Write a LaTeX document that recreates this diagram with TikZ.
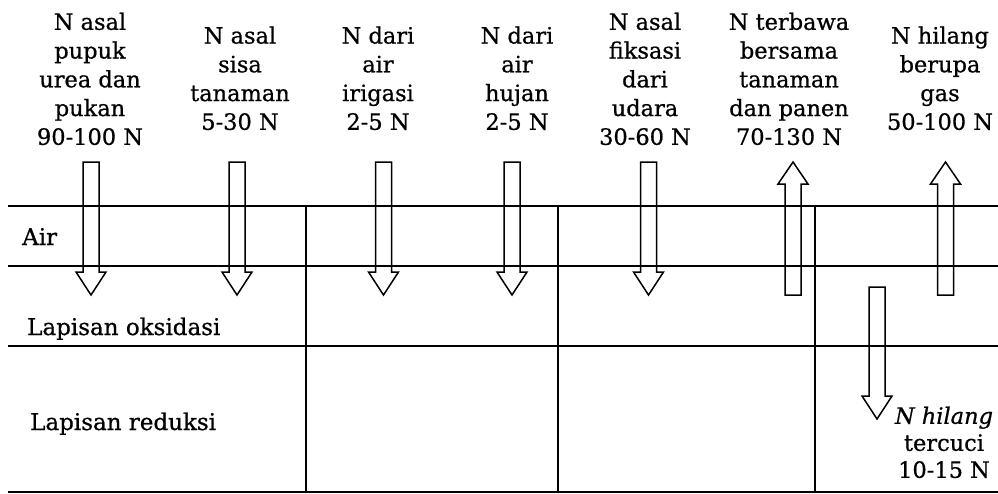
\documentclass[tikz,border=0pt]{standalone}
\usepackage{fontspec}
\setmainfont{DejaVu Serif}[FakeBold=0.7,ItalicFeatures={FakeBold=0.7}]
\begin{document}
\begin{tikzpicture}[x=1pt,y=-1pt,
  rule/.style={line width=1.5pt},
  flow/.style={line width=1.5pt,line join=miter},
  lbl/.style={align=center,inner sep=0pt,text depth=0pt,anchor=south,
    font=\fontsize{22.5}{28.75}\selectfont},
  side/.style={inner sep=0pt,anchor=base west,font=\fontsize{23}{27}\selectfont}]
\useasboundingbox (0,0) rectangle (998,493);
% hollow arrows: x, tail y, tip y
\newcommand\downflow[3]{\draw[flow] (#1-8,#2) -- (#1+8,#2) -- (#1+8,#3-23) -- (#1+15,#3-23)
  -- (#1,#3) -- (#1-15,#3-23) -- (#1-8,#3-23) -- cycle;}
\newcommand\upflow[3]{\draw[flow] (#1-8,#2) -- (#1+8,#2) -- (#1+8,#3+22) -- (#1+15,#3+22)
  -- (#1,#3) -- (#1-15,#3+22) -- (#1-8,#3+22) -- cycle;}

% soil layers
\draw[rule] (8,206) -- (998,206);
\draw[rule] (8,266) -- (998,266);
\draw[rule] (8,346) -- (998,346);
\draw[rule] (8,492) -- (998,492);
\draw[rule] (306,206) -- (306,492);
\draw[rule] (558,206) -- (558,492);
\draw[rule] (815,206) -- (815,492);

% layer names
\node[side] (air) at (22,245) {Air};
\node[side] (oks) at (27,335) {Lapisan oksidasi};
\node[side] (red) at (30,430) {Lapisan reduksi};

% nitrogen inputs and losses
\node[lbl] (l1) at (90,145) {N asal\\pupuk\\urea dan\\pukan\\90-100 N};
\node[lbl] (l2) at (240,130) {N asal\\sisa\\tanaman\\5-30 N};
\node[lbl] (l3) at (378,130) {N dari\\air\\irigasi\\2-5 N};
\node[lbl] (l4) at (517,130) {N dari\\air\\hujan\\2-5 N};
\node[lbl] (l5) at (645,145) {N asal\\fiksasi\\dari\\udara\\30-60 N};
\node[lbl] (l6) at (789,145) {N terbawa\\bersama\\tanaman\\dan panen\\70-130 N};
\node[lbl] (l7) at (940,130) {N hilang\\berupa\\gas\\50-100 N};
\node[lbl,font=\fontsize{22.5}{27}\selectfont] (l8) at (944,478) {\itshape N hilang\\tercuci\\10-15 N};

\downflow{91}{162}{295}
\downflow{237}{162}{295}
\downflow{383.5}{162}{295}
\downflow{512}{162}{295}
\downflow{648.5}{162}{295}
\upflow{793}{295}{162}
\upflow{945.5}{295}{162}
\downflow{877}{287}{419}
\end{tikzpicture}
\end{document}
